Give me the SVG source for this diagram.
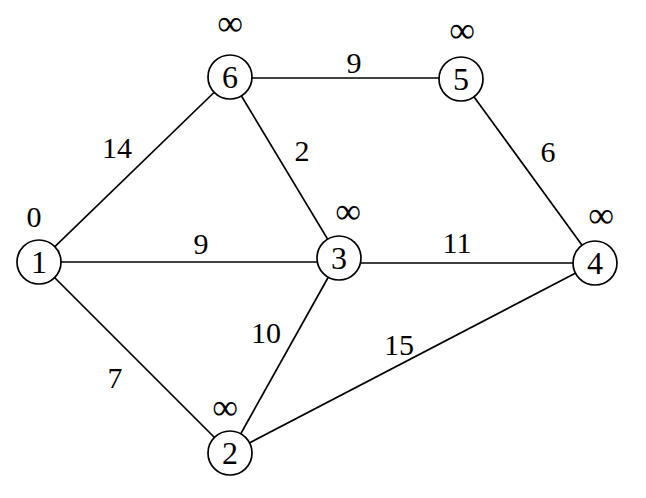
<svg xmlns="http://www.w3.org/2000/svg" width="646" height="498" viewBox="0 0 646 498">
<style>
.e{stroke:#000;stroke-width:1.7;fill:none}
.n{fill:#fff;stroke:#000;stroke-width:1.7}
text{font-family:"Liberation Serif","Times New Roman",serif;fill:#000}
.nl{font-size:32px;text-anchor:middle}
.el{font-size:30px;text-anchor:middle}
.dl{font-size:36px;text-anchor:middle}
</style>
<rect width="646" height="498" fill="#fff"/>
<g id="edges">
<line class="e" x1="39" y1="262" x2="230" y2="77"/>
<line class="e" x1="39" y1="262" x2="339" y2="262"/>
<line class="e" x1="39" y1="262" x2="230" y2="453"/>
<line class="e" x1="230" y1="78" x2="461" y2="78"/>
<line class="e" x1="230" y1="77" x2="339" y2="258"/>
<line class="e" x1="461" y1="79" x2="595" y2="263"/>
<line class="e" x1="339" y1="263" x2="595" y2="263"/>
<line class="e" x1="339" y1="258" x2="230" y2="453"/>
<line class="e" x1="230" y1="453" x2="595" y2="263"/>
<text class="el" x="117" y="158">14</text>
<text class="el" x="201" y="254">9</text>
<text class="el" x="115" y="388">7</text>
<text class="el" x="354" y="73">9</text>
<text class="el" x="302" y="161">2</text>
<text class="el" x="548" y="162">6</text>
<text class="el" x="457" y="253">11</text>
<text class="el" x="266" y="343">10</text>
<text class="el" x="399" y="355">15</text>
</g>
<g id="node1"><circle class="n" cx="39" cy="262" r="22"/><text class="nl" x="39" y="273">1</text><text class="el" x="34" y="227">0</text></g>
<g id="node6"><circle class="n" cx="230" cy="77" r="22"/><text class="nl" x="230" y="88">6</text><text class="dl" x="230" y="35">∞</text></g>
<g id="node5"><circle class="n" cx="461" cy="79" r="22"/><text class="nl" x="461" y="90">5</text><text class="dl" x="462" y="42">∞</text></g>
<g id="node3"><circle class="n" cx="339" cy="258" r="22"/><text class="nl" x="339" y="269">3</text><text class="dl" x="348" y="223">∞</text></g>
<g id="node4"><circle class="n" cx="595" cy="263" r="22"/><text class="nl" x="595" y="274">4</text><text class="dl" x="601" y="227">∞</text></g>
<g id="node2"><circle class="n" cx="230" cy="453" r="22"/><text class="nl" x="230" y="464">2</text><text class="dl" x="225" y="419">∞</text></g>
</svg>
